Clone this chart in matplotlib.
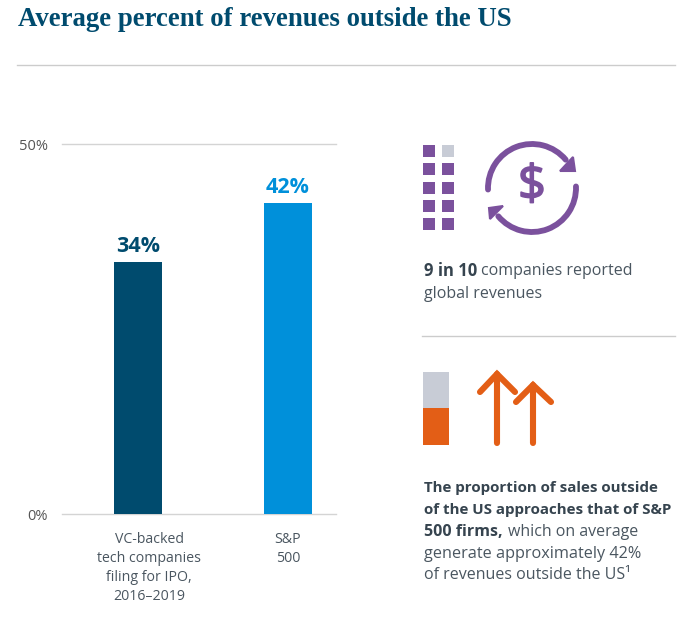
"""
Average percent of revenues outside the US, bars plus two side callouts.
"""
import matplotlib
matplotlib.use("Agg")
import matplotlib.pyplot as plt
import matplotlib.patheffects as pe
from matplotlib.patches import Arc, Polygon, Rectangle

categories = ["VC-backed\ntech companies\nfiling for IPO,\n2016\u20132019", "S&P\n500"]
values = [34, 42]
value_labels = ["34%", "42%"]
y_ticks = [0, 50]
y_tick_labels = ["0%", "50%"]

NAVY = "#004b6e"
BLUE = "#0090da"
PURPLE = "#7b519d"
ORANGE = "#e35e16"
PALE = "#c8ccd6"
TEXT = "#4a5660"
DARK = "#36444f"
BODY = "Open Sans"
W, H = 682, 636

fig = plt.figure(figsize=(W / 100, H / 100), dpi=100, facecolor="white")

# overlay in pixel coordinates for title, rules and icons
px = fig.add_axes([0, 0, 1, 1])
px.set_xlim(0, W)
px.set_ylim(H, 0)
px.axis("off")

# bar chart
ax = fig.add_axes([62 / W, 1 - 514 / H, 274 / W, 370 / H], zorder=2)
ax.patch.set_alpha(0)
ax.bar([0, 1], values, width=0.32, color=[NAVY, BLUE], zorder=3)
ax.set_xlim(-0.507, 1.32)
ax.set_ylim(0, 50)
for spine in ax.spines.values():
    spine.set_visible(False)
ax.set_yticks(y_ticks)
ax.set_yticklabels(y_tick_labels, fontsize=10.5, color="#555555", family=BODY)
ax.tick_params(axis="y", length=0, pad=10)
ax.set_xticks([])
ax.grid(axis="y", color="#d4d4d4", linewidth=1, clip_on=False)
ax.set_axisbelow(True)
label_shift = [8, 0]
for i, v in enumerate(values):
    ax.annotate(value_labels[i], (i, v), xytext=(0, 4), textcoords="offset points",
                ha="center", va="bottom", fontsize=15.5, fontweight="bold",
                color=[NAVY, BLUE][i], family=BODY)
    ax.annotate(categories[i], (i, 0), xytext=(label_shift[i], -13), textcoords="offset points",
                ha="center", va="top", fontsize=10.2, color=TEXT, family=BODY,
                linespacing=1.36)

# title and rules
px.text(18, 20, "Average percent of revenues outside the US", fontsize=19.3,
        fontweight="bold", color=NAVY, family="Liberation Serif", va="center", ha="left")
px.plot([17, 675], [65, 65], color="#cccccc", lw=1)
px.plot([422, 675], [336, 336], color="#cccccc", lw=1)

# nine of ten squares
for row, y in enumerate([145, 163, 182, 200, 218]):
    for col, x in enumerate([423, 442]):
        c = PALE if (row == 0 and col == 1) else PURPLE
        px.add_patch(Rectangle((x, y), 12, 12, color=c, lw=0))

# circular dollar icon
lw = 4.2
px.add_patch(Arc((532, 188), 88, 88, theta1=178, theta2=320, color=PURPLE, lw=lw, capstyle="round"))
px.add_patch(Arc((532, 188), 88, 88, theta1=-2, theta2=140, color=PURPLE, lw=lw, capstyle="round"))
px.add_patch(Polygon([(560, 171), (575, 171), (573, 157)], closed=True, fc=PURPLE, ec=PURPLE, lw=1.5))
px.add_patch(Polygon([(489, 208), (503, 206), (490, 219)], closed=True, fc=PURPLE, ec=PURPLE, lw=1.5))
dollar = px.text(532, 187, r"\$", fontsize=35, color=PURPLE, ha="center", va="center", family=BODY)
dollar.set_path_effects([pe.withStroke(linewidth=1.2, foreground=PURPLE)])

# share bar and arrows
px.add_patch(Rectangle((423, 372), 26, 36, color=PALE, lw=0))
px.add_patch(Rectangle((423, 408), 26, 37, color=ORANGE, lw=0))
for x, top, bottom, wing in [(497, 374, 443, 392), (533, 385, 443, 402)]:
    px.plot([x, x], [top, bottom], color=ORANGE, lw=4.4, solid_capstyle="round")
    px.plot([x - 17, x, x + 18], [wing, top, wing], color=ORANGE, lw=4.4,
            solid_capstyle="round", solid_joinstyle="miter")

# callout text
def note(x, y, s, bold=False, size=11.5):
    px.text(x, y, s, fontsize=size, color=DARK if bold else TEXT, family=BODY,
            fontweight="bold" if bold else "normal", va="center", ha="left")

note(424, 271, "9 in 10", bold=True, size=12)
note(481, 271, "companies reported")
note(424, 294, "global revenues")
note(424, 488, "The proportion of sales outside", bold=True, size=10.9)
note(424, 510, "of the US approaches that of S&P", bold=True, size=10.9)
note(424, 532, "500 firms,", bold=True, size=11.5)
note(508, 532, "which on average")
note(424, 554, "generate approximately 42%", size=11.7)
note(424, 575, "of revenues outside the US\u00b9")

fig.savefig("out.png", dpi=100, facecolor="white")
